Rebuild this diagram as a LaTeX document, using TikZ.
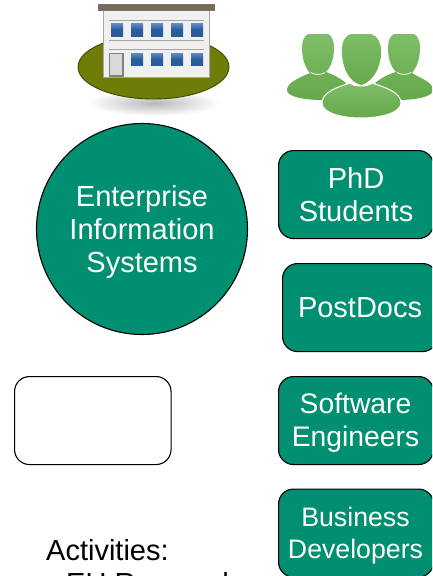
\documentclass[tikz,border=0pt]{standalone}
\usepackage{fontspec}
\setmainfont{Liberation Sans}
\definecolor{tealbox}{HTML}{008F70}
\definecolor{olive}{HTML}{6F7D08}
\definecolor{oliveD}{HTML}{3F4A00}
\definecolor{ptop}{HTML}{7DBE68}
\definecolor{pbot}{HTML}{66A84A}
\definecolor{wintop}{HTML}{5C8CC4}
\definecolor{winbot}{HTML}{2A5C9C}
\definecolor{roof}{HTML}{7A6A55}
\tikzset{
 x=1pt,y=-1pt,
 lbl/.style={font=\fontsize{29}{33}\selectfont,align=center,text=white},
 person/.style={rounded corners=15pt,draw=black,line width=1.1pt,fill=tealbox,minimum width=155pt,minimum height=88pt,anchor=north west,lbl,inner sep=0pt},
 winpane/.style={top color=wintop,bottom color=winbot,middle color=winbot},
 pplshade/.style={top color=ptop,bottom color=pbot},
}
\begin{document}
\begin{tikzpicture}
\useasboundingbox (0,0) rectangle (432,576);
\clip (0,0) rectangle (432,576);
% building shadow and ground
\shade[inner color=black!28,outer color=white] (154,103) ellipse (66 and 13);
\draw[fill=olive,draw=oliveD,line width=.9pt] (153.5,67) ellipse (75.5 and 32);
% building
\draw[fill=black!6,draw=black!35,line width=1pt] (103.5,8) rectangle (209,77);
\draw[black!35,line width=.8pt] (109,20)--(204,20) (109,40)--(204,40) (109,49.5)--(204,49.5);
\draw[fill=roof,draw=black!55,line width=.6pt] (98.5,4.5) rectangle (214,10);
\foreach \x in {111,131,151,171,191}{\shade[winpane] (\x,23.5) rectangle +(12,12.5);}
\foreach \x in {131,151,171,191}{\shade[winpane] (\x,53) rectangle +(12,12.5);}
\draw[fill=black!15,draw=black!50,line width=1.1pt] (109.5,53.5) rectangle (123,76);
% people
\shade[pplshade] (308,34) -- (328,34) .. controls (332,36) and (334,41) .. (334,48) .. controls (334,60) and (330,68) .. (326,72) .. controls (332,74) and (340,78) .. (346,83) -- (322,100) .. controls (305,100) and (287,97) .. (287,90) .. controls (287,83) and (298,78) .. (310,73) .. controls (305,68) and (302,58) .. (302,48) .. controls (302,41) and (304,36) .. (308,34) -- cycle;
\shade[pplshade] (394,34) -- (414,34) .. controls (418,36) and (420,41) .. (420,48) .. controls (420,60) and (416,68) .. (412,73) .. controls (420,78) and (433,82) .. (433,90) .. controls (433,97) and (415,100) .. (398,100) -- (375,83) .. controls (381,78) and (389,74) .. (396,72) .. controls (392,68) and (388,60) .. (388,48) .. controls (388,41) and (390,36) .. (394,34) -- cycle;
\draw[white,line width=.8pt] (311,72.5) .. controls (314,75) and (322,75) .. (325,72.5);
\draw[white,line width=.8pt] (397,72.5) .. controls (400,75) and (408,75) .. (411,72.5);
\shade[pplshade] (351,34) -- (371,34) .. controls (378,36) and (382,44) .. (381,55) .. controls (380,68) and (373,82) .. (361,85) .. controls (349,82) and (343,68) .. (342,55) .. controls (341,44) and (344,36) .. (351,34) -- cycle;
\draw[pplshade,draw=white,line width=1pt] (350,83) .. controls (354,87) and (368,87) .. (372,83) .. controls (384,87) and (401,92) .. (401,103) .. controls (401,113) and (380,118) .. (361,118) .. controls (342,118) and (322,113) .. (322,103) .. controls (322,92) and (338,87) .. (350,83) -- cycle;
% main shapes
\node[circle,draw=black,line width=1.1pt,fill=tealbox,minimum size=211pt,inner sep=0pt] (eis) at (142,229) {};
\node[lbl] (eistext) at (142,231.5) {Enterprise\\Information\\Systems};
\node[person] (phd) at (278,150) {PhD\\Students};
\node[person] (post) at (282,263) {PostDocs};
\node[person] (soft) at (278,376) {};
\node[lbl,font=\fontsize{28.3}{32.5}\selectfont] (softtext) at (355.5,422.5) {Software\\Engineers};
\node[person] (bus) at (278,488.5) {};
\node[lbl,font=\fontsize{26.7}{32}\selectfont] (bustext) at (355.5,536) {Business\\Developers};
\node[rounded corners=15pt,draw=black,line width=1.1pt,fill=white,minimum width=156.5pt,minimum height=88pt,anchor=north west] (blank) at (14,376) {};
\node[font=\fontsize{29}{33}\selectfont,anchor=base west,inner sep=0pt] (act) at (46,560) {Activities:};
\node[font=\fontsize{29}{33}\selectfont,anchor=base west,inner sep=0pt] (eu) at (66,593) {EU Research};
\end{tikzpicture}
\end{document}
